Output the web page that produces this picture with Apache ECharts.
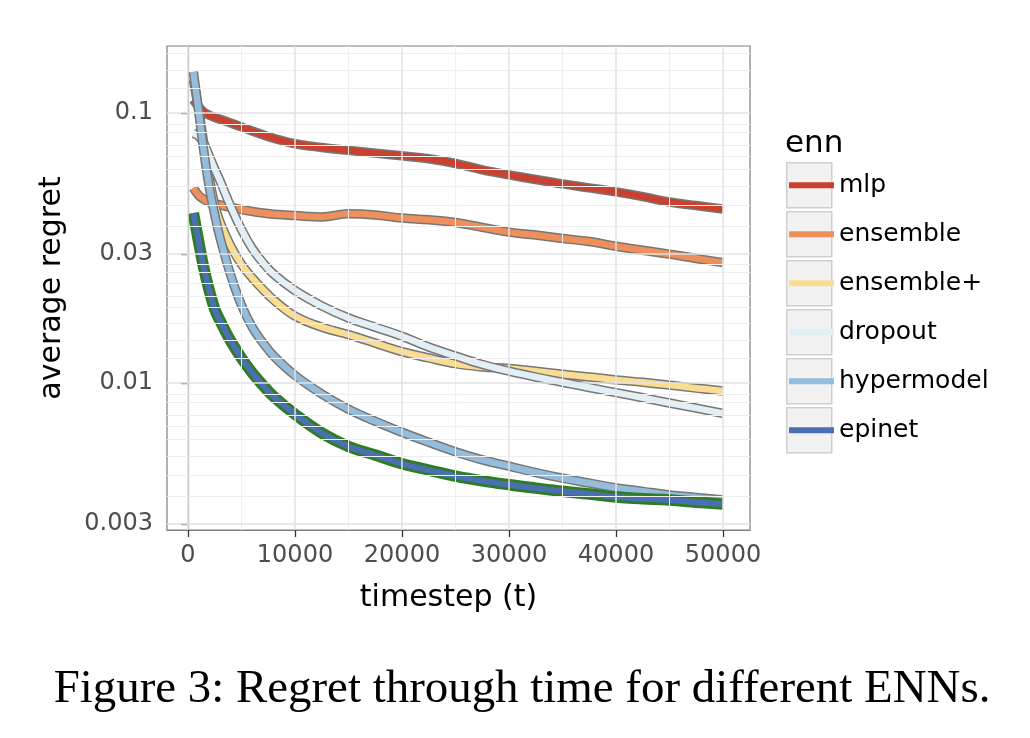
<!DOCTYPE html>
<html><head><meta charset="utf-8">
<script src="https://cdn.jsdelivr.net/npm/echarts@6/dist/echarts.min.js"></script>
<style>html,body{margin:0;padding:0;background:#fff}#c{width:1030px;height:738px}</style>
</head><body><div id="c"></div>
<script>
const timesteps = [500,1000,1500,2000,2500,3000,4000,5000,6000,7000,8000,10000,12500,15000,17500,20000,22500,25000,27500,30000,32500,35000,37500,40000,42500,45000,47500,50000];
const mlp = [0.112,0.1055,0.1005,0.098,0.0962,0.0948,0.0918,0.0888,0.0857,0.0830,0.0806,0.0769,0.0745,0.0727,0.0710,0.0694,0.0677,0.0650,0.0616,0.0590,0.0567,0.0546,0.0528,0.0510,0.0490,0.0468,0.0454,0.0441];
const ensemble = [0.0528,0.0495,0.0478,0.0468,0.0462,0.0457,0.0447,0.0439,0.0432,0.0426,0.0422,0.0417,0.0412,0.0423,0.0419,0.0408,0.0402,0.0393,0.0377,0.0362,0.0353,0.0343,0.0334,0.0321,0.0310,0.0300,0.0289,0.0279];
const ensemblePlus = [0.1325,0.1026,0.0759,0.0574,0.0455,0.0394,0.0321,0.0275,0.0245,0.0222,0.0203,0.0177,0.0161,0.0151,0.01405,0.01306,0.01238,0.01179,0.01147,0.01132,0.01105,0.01077,0.01053,0.01027,0.01006,0.00982,0.00957,0.00934];
const dropout = [0.084,0.082,0.077,0.069,0.062,0.056,0.045,0.037,0.0315,0.0279,0.0253,0.0220,0.0193,0.0174,0.0161,0.0149,0.01359,0.01259,0.01171,0.01106,0.01052,0.01006,0.00962,0.00921,0.00882,0.00843,0.00807,0.00772];
const hypermodel = [0.142,0.1013,0.0712,0.0527,0.0420,0.0344,0.0250,0.0194,0.0161,0.0141,0.0126,0.01067,0.00911,0.00800,0.00721,0.00657,0.00603,0.00556,0.00519,0.00492,0.00466,0.00444,0.00426,0.00409,0.00397,0.00385,0.00377,0.00369];
const epinet = [0.0426,0.0333,0.0264,0.0219,0.01876,0.0170,0.01428,0.01236,0.01091,0.00981,0.00891,0.00766,0.00653,0.00582,0.00541,0.00502,0.00476,0.00452,0.00434,0.00420,0.00408,0.00397,0.00388,0.00378,0.00373,0.00369,0.00362,0.00356];

const seriesNames = ['mlp','ensemble','ensemble+','dropout','hypermodel','epinet'];
const seriesValues = [mlp, ensemble, ensemblePlus, dropout, hypermodel, epinet];
const seriesColors = ['#ca4130','#ef8f5c','#f9dd93','#e2eff7','#95bcdb','#4a70b1'];
const outlineColors = ['#767676','#767676','#767676','#767676','#767676','#2f7d22'];

const xTicks = [0,10000,20000,30000,40000,50000];
const xMinorGrid = [5000,15000,25000,35000,45000];
const yTicks = [0.003,0.01,0.03,0.1];
const yTickLabels = ['0.003','0.01','0.03','0.1'];
const yMinorGrid = [0.003778,0.004556,0.005333,0.006111,0.006889,0.007667,0.008444,0.009222,
  0.01222,0.01444,0.01667,0.01889,0.02111,0.02333,0.02556,0.02778,
  0.03778,0.04556,0.05333,0.06111,0.06889,0.07667,0.08444,0.09222,
  0.1222,0.1444,0.1667];

const lg = Math.log10;
const FONT = '"DejaVu Sans", sans-serif';

const gridLines = [];
xMinorGrid.forEach(v => gridLines.push({xAxis: v, lineStyle: {color: '#efefef', width: 1, type: 'solid'}}));
yMinorGrid.forEach(v => gridLines.push({yAxis: lg(v), lineStyle: {color: '#efefef', width: 1, type: 'solid'}}));
xTicks.forEach(v => gridLines.push({xAxis: v, lineStyle: {color: '#e2e2e2', width: 1.5, type: 'solid'}}));
yTicks.forEach(v => gridLines.push({yAxis: lg(v), lineStyle: {color: '#e2e2e2', width: 1.5, type: 'solid'}}));

const series = [{
  type: 'line', name: '__grid', data: [], z: 1, silent: true,
  markLine: {silent: true, symbol: ['none','none'], label: {show: false}, animation: false, data: gridLines}
}];
seriesNames.forEach((name, i) => {
  const d = timesteps.map((t, j) => [t, lg(seriesValues[i][j])]);
  series.push({
    type: 'line', name: name + '__outline', data: d, symbol: 'none', z: 2, silent: true,
    smooth: 0.4,
    lineStyle: {color: outlineColors[i], width: i === 5 ? 11.5 : 9.5, join: 'round', cap: 'butt'}
  });
  series.push({
    type: 'line', name: name, data: d, symbol: 'none', z: 2, silent: true, color: seriesColors[i],
    smooth: 0.4,
    lineStyle: {color: seriesColors[i], width: i === 5 ? 6 : 6.5, join: 'round', cap: 'butt'}
  });
});

const legendBase = {
  orient: 'vertical', left: 786, top: 162, padding: 0,
  itemWidth: 45, itemHeight: 45, itemGap: 2.5, selectedMode: false,
  data: seriesNames,
  textStyle: {fontSize: 25, fontFamily: FONT, color: '#000', lineHeight: 46.5}
};

const chart = echarts.init(document.getElementById('c'), null, {renderer: 'canvas'});
chart.setOption({
  animation: false,
  backgroundColor: '#ffffff',
  title: {text: 'enn', left: 785, top: 128, padding: 0,
    textStyle: {fontSize: 31, fontWeight: 'normal', fontFamily: FONT, color: '#000'}},
  grid: {left: 167, top: 46, width: 583, height: 484, show: true, borderColor: '#7f7f7f', borderWidth: 1.2, backgroundColor: '#fff', containLabel: false},
  legend: [
    Object.assign({}, legendBase, {icon: 'rect', z: 3,
      itemStyle: {color: '#f2f2f2', borderColor: '#cfcfcf', borderWidth: 1.5},
      textStyle: Object.assign({}, legendBase.textStyle, {color: 'rgba(0,0,0,0)'})}),
    Object.assign({}, legendBase, {z: 4,
      itemStyle: {color: 'rgba(0,0,0,0)', borderWidth: 0, opacity: 0},
      lineStyle: {width: 6}})
  ],
  xAxis: {
    type: 'value', min: -1963, max: 52523,
    name: 'timestep (t)', nameLocation: 'middle', nameGap: 53,
    nameTextStyle: {fontSize: 30, fontFamily: FONT, color: '#000', padding: [0, 20, 0, 0]},
    axisLine: {show: true, lineStyle: {color: '#7f7f7f', width: 1.2}},
    axisTick: {show: true, length: 7, customValues: xTicks, lineStyle: {color: '#333', width: 1.3}},
    axisLabel: {show: true, customValues: xTicks, margin: 14, fontSize: 24, fontFamily: FONT, color: '#4d4d4d',
      formatter: function (v) { return String(Math.round(v)); }},
    splitLine: {show: false}
  },
  yAxis: {
    type: 'value', min: lg(0.002855), max: lg(0.177),
    name: 'average regret', nameLocation: 'middle', nameGap: 100,
    nameTextStyle: {fontSize: 30, fontFamily: FONT, color: '#000'},
    axisLine: {show: true, lineStyle: {color: '#7f7f7f', width: 1.2}},
    axisTick: {show: true, length: 7, customValues: yTicks.map(lg), lineStyle: {color: '#333', width: 1.3}},
    axisLabel: {show: true, customValues: yTicks.map(lg), margin: 14, fontSize: 24, fontFamily: FONT, color: '#4d4d4d',
      formatter: function (v) {
        for (let i = 0; i < yTicks.length; i++) { if (Math.abs(lg(yTicks[i]) - v) < 1e-6) return yTickLabels[i]; }
        return '';
      }},
    splitLine: {show: false}
  },
  graphic: [{
    type: 'text', x: 522, y: 690, silent: true,
    style: {text: 'Figure 3: Regret through time for different ENNs.', font: '46.9px "Liberation Serif", serif', fill: '#000', align: 'center', verticalAlign: 'middle'}
  }],
  series: series
});
</script></body></html>
